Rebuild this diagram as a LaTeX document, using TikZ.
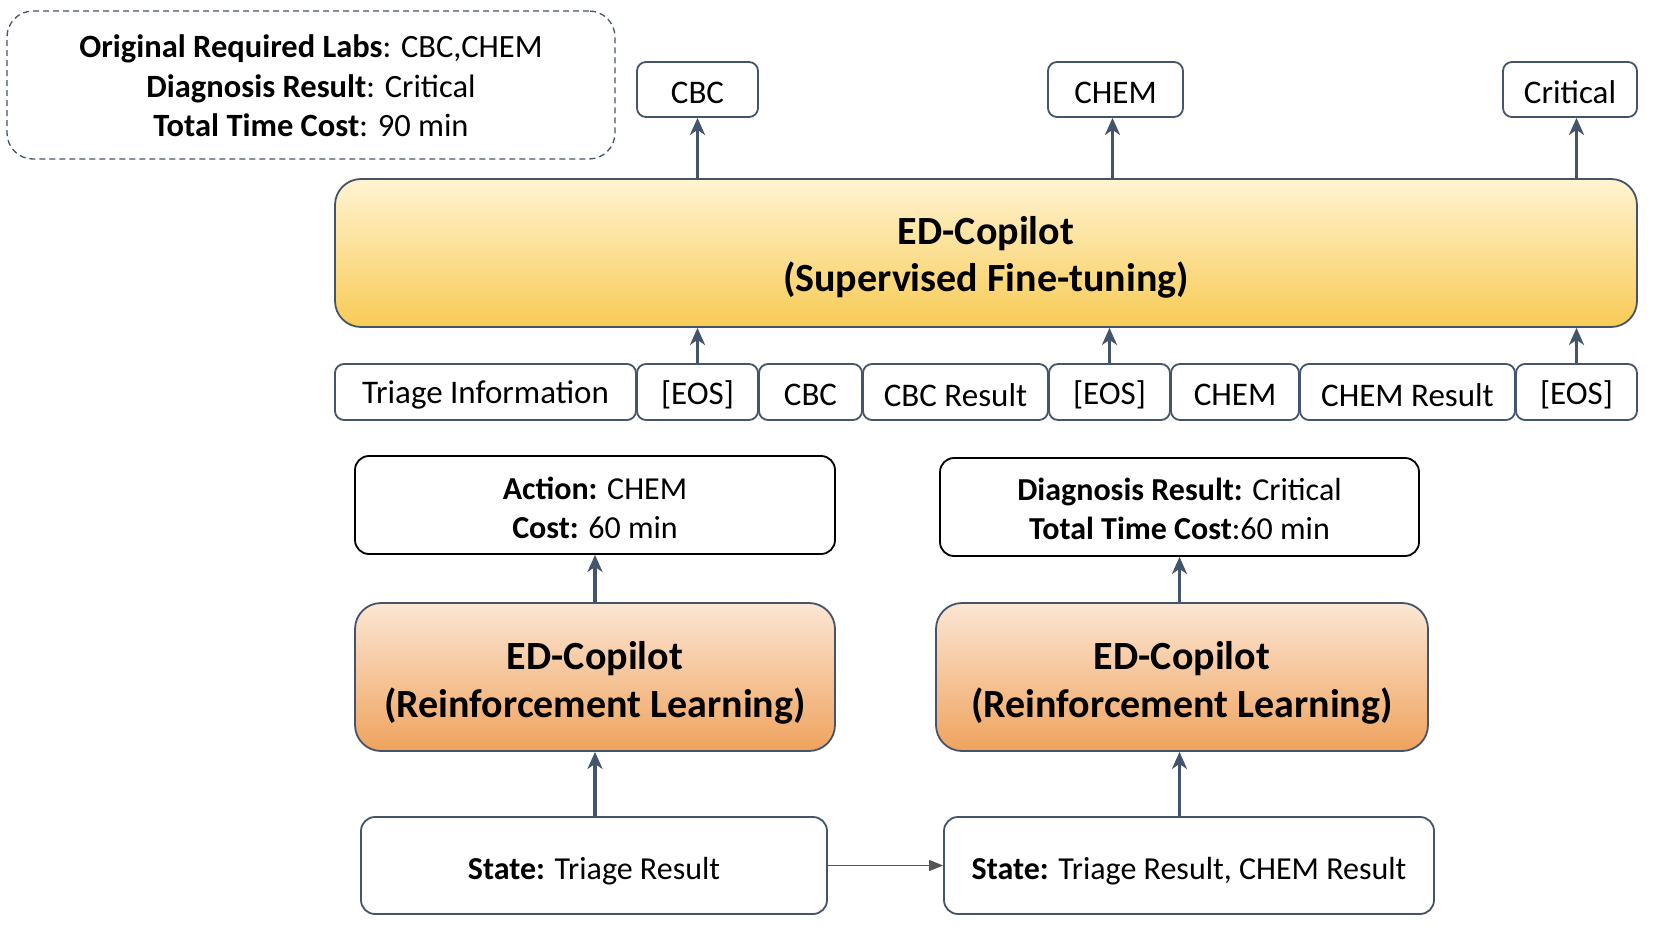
\documentclass[tikz,border=0pt]{standalone}
\usepackage{fontspec}
\setmainfont{Carlito}
\usetikzlibrary{arrows.meta,calc}
\definecolor{slate}{HTML}{44546A}
\definecolor{ytop}{HTML}{FFF3D1}
\definecolor{ybot}{HTML}{F8CB55}
\definecolor{otop}{HTML}{FCE6D4}
\definecolor{obot}{HTML}{EFA35E}
\definecolor{thin}{HTML}{555555}
% enlarge the reported height of a line, so that the text sits lower in its box
\newcommand{\dn}[2]{\raisebox{0pt}[\dimexpr\height+#1\relax][\depth]{#2}}
\tikzset{
  tok/.style={draw=slate, line width=1.8pt, rounded corners=9pt, fill=white, inner sep=0pt, font=\fontsize{33}{40}\selectfont},
  infobox/.style={draw=black, line width=1.8pt, rounded corners=14pt, fill=white, inner sep=0pt, align=center, font=\fontsize{32}{39}\selectfont},
  statebox/.style={draw=slate, line width=1.8pt, rounded corners=14pt, fill=white, inner sep=0pt, align=center, font=\fontsize{32}{40}\selectfont},
  sftbox/.style={draw=slate, line width=1.8pt, rounded corners=26pt, top color=ytop, bottom color=ybot, inner sep=0pt, align=center, font=\fontsize{40}{46.5}\selectfont\bfseries},
  rlbox/.style={draw=slate, line width=1.8pt, rounded corners=26pt, top color=otop, bottom color=obot, inner sep=0pt, align=center, font=\fontsize{40}{48}\selectfont\bfseries},
  dashbox/.style={draw=slate, dashed, line width=1.3pt, dash pattern=on 6pt off 4pt, rounded corners=26pt, inner sep=0pt, align=center, font=\fontsize{32.5}{39.5}\selectfont},
  uparrow/.style={draw=slate, line width=3.5pt, -{Stealth[length=17pt,width=15pt,inset=5pt]}},
  sidearrow/.style={draw=thin, line width=1.4pt, -{Triangle[length=14pt,width=11pt]}}
}
\begin{document}
\begin{tikzpicture}[x=1pt,y=-1pt]
\useasboundingbox[fill=white] (0,0) rectangle (1657,928);
% summary
\node[dashbox, minimum width=608pt, minimum height=148pt] (summary) at (311,85)
  {\dn{2pt}{\textbf{Original Required Labs}: CBC,CHEM}\\\textbf{Diagnosis Result}: Critical\\\textbf{Total Time Cost}: 90 min};
% SFT
\node[sftbox, minimum width=1302pt, minimum height=148pt] (sft) at (986,253)
  {\dn{9pt}{ED-Copilot}\\(Supervised Fine-tuning)};
% outputs
\node[tok, minimum width=121pt, minimum height=55pt] (outcbc) at (697.5,89.5) {\dn{6pt}{CBC}};
\node[tok, minimum width=135pt, minimum height=55pt] (outchem) at (1115.5,89.5) {\dn{6pt}{CHEM}};
\node[tok, minimum width=134pt, minimum height=55pt] (outcrit) at (1570,89.5) {\dn{6pt}{Critical}};
% tokens
\node[tok, minimum width=301pt, minimum height=56pt] (t1) at (485.5,392) {\dn{6pt}{Triage Information}};
\node[tok, minimum width=121pt, minimum height=56pt] (t2) at (697.5,392) {\dn{6pt}{[EOS]}};
\node[tok, minimum width=103pt, minimum height=56pt] (t3) at (810.5,392) {\dn{6pt}{CBC}};
\node[tok, minimum width=185pt, minimum height=56pt] (t4) at (955.5,392) {\dn{6pt}{CBC Result}};
\node[tok, minimum width=121pt, minimum height=56pt] (t5) at (1109.5,392) {\dn{6pt}{[EOS]}};
\node[tok, minimum width=128pt, minimum height=56pt] (t6) at (1235,392) {\dn{6pt}{CHEM}};
\node[tok, minimum width=215pt, minimum height=56pt] (t7) at (1407.5,392) {\dn{6pt}{CHEM Result}};
\node[tok, minimum width=121pt, minimum height=56pt] (t8) at (1576.5,392) {\dn{6pt}{[EOS]}};
% arrows SFT
\coordinate (chemx) at ($(t5)!0.5!(outchem)$);
\draw[uparrow] (sft.north -| outcbc) -- (outcbc.south);
\draw[uparrow] (sft.north -| chemx) -- (outchem.south -| chemx);
\draw[uparrow] (sft.north -| t8) -- (outcrit.south -| t8);
\draw[uparrow] (t2.north) -- (t2.north |- sft.south);
\draw[uparrow] (t5.north) -- (t5.north |- sft.south);
\draw[uparrow] (t8.north) -- (t8.north |- sft.south);
% left RL column
\node[infobox, minimum width=480pt, minimum height=98pt] (act) at (595,505)
  {\dn{6pt}{\textbf{Action:} CHEM}\\\textbf{Cost:} 60 min};
\node[rlbox, minimum width=480pt, minimum height=148pt] (rl1) at (595,677)
  {\dn{12pt}{ED-Copilot}\\(Reinforcement Learning)};
\node[statebox, minimum width=466pt, minimum height=97pt] (st1) at (594,865.5)
  {\dn{12pt}{\textbf{State:} Triage Result}};
% right RL column
\node[infobox, minimum width=479pt, minimum height=98pt] (diag) at (1179.5,507)
  {\dn{4pt}{\textbf{Diagnosis Result:} Critical}\\\textbf{Total Time Cost}:60 min};
\node[rlbox, minimum width=492pt, minimum height=148pt] (rl2) at (1182,677)
  {\dn{12pt}{ED-Copilot}\\(Reinforcement Learning)};
\node[statebox, minimum width=490pt, minimum height=97pt] (st2) at (1189,865.5)
  {\dn{12pt}{\textbf{State:} Triage Result, CHEM Result}};
% arrows RL
\draw[uparrow] (st1.north -| act) -- (rl1.south -| act);
\draw[uparrow] (rl1.north -| act) -- (act.south);
\draw[uparrow] (st2.north -| diag) -- (rl2.south -| diag);
\draw[uparrow] (rl2.north -| diag) -- (diag.south);
\draw[sidearrow] (st1.east) -- (st2.west);
\end{tikzpicture}
\end{document}
